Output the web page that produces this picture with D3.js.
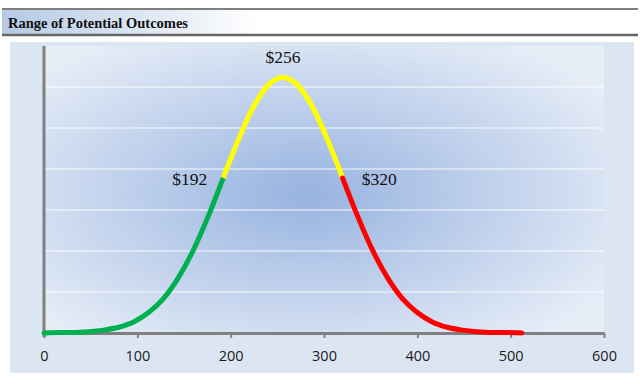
<!DOCTYPE html>
<html>
<head>
<meta charset="utf-8">
<script src="https://cdn.jsdelivr.net/npm/d3@7"></script>
<style>
  body { margin: 0; background: #fff; }
  svg { display: block; }
</style>
</head>
<body>
<div id="chart"></div>
<script>
// Data (density in thousandths)
const outcomes = [0, 16, 32, 48, 64, 80, 96, 112, 128, 144, 160, 176, 192, 208, 224, 240, 256,
  272, 288, 304, 320, 336, 352, 368, 384, 400, 416, 432, 448, 464, 480, 496, 512];
const density = [0.00, 0.01, 0.01, 0.03, 0.07, 0.14, 0.27, 0.50, 0.84, 1.35, 2.02, 2.85, 3.78, 4.70, 5.50, 6.04, 6.23,
  6.04, 5.50, 4.70, 3.78, 2.85, 2.02, 1.35, 0.84, 0.50, 0.27, 0.14, 0.07, 0.03, 0.01, 0.01, 0.00];
const bands = [[0, 192], [192, 320], [320, 512]];
const bandColors = ["#00b050", "#ffff00", "#ff0000"];
const markers = [192, 256, 320];
const xTicks = [0, 100, 200, 300, 400, 500, 600];
const yGrid = [1, 2, 3, 4, 5, 6, 7];

const fullWidth = 640, fullHeight = 384;
const plot = { left: 44, right: 604, top: 46, bottom: 333 };

const svg = d3.select("#chart")
  .append("svg")
  .attr("width", fullWidth)
  .attr("height", fullHeight);

const defs = svg.append("defs");

// Title bar gradient
const tg = defs.append("linearGradient").attr("id", "titleGrad");
tg.append("stop").attr("offset", "0%").attr("stop-color", "#b4c9e4");
tg.append("stop").attr("offset", "40%").attr("stop-color", "#ffffff");

// Plot area radial gradient
const rg = defs.append("radialGradient").attr("id", "plotGrad")
  .attr("cx", "47%").attr("cy", "52%").attr("r", "64%");
rg.append("stop").attr("offset", "0%").attr("stop-color", "#97b3e0");
rg.append("stop").attr("offset", "100%").attr("stop-color", "#e6edf7");

// Title bar
svg.append("rect")
  .attr("x", 2).attr("y", 10).attr("width", 636).attr("height", 25)
  .attr("fill", "url(#titleGrad)");
svg.append("line")
  .attr("x1", 2).attr("x2", 638).attr("y1", 9).attr("y2", 9)
  .attr("stroke", "#555").attr("stroke-width", 1.5);
svg.append("line")
  .attr("x1", 2).attr("x2", 638).attr("y1", 35).attr("y2", 35)
  .attr("stroke", "#666").attr("stroke-width", 2.5);
svg.append("text")
  .attr("x", 8).attr("y", 28)
  .style("font-family", "'Liberation Serif', 'Times New Roman', serif")
  .style("font-size", "14.5px")
  .style("font-weight", "bold")
  .attr("fill", "#111")
  .text("Range of Potential Outcomes");

// Chart background
svg.append("rect")
  .attr("x", 10).attr("y", 42).attr("width", 624).attr("height", 331)
  .attr("fill", "#dce6f2");

svg.append("rect")
  .attr("x", plot.left).attr("y", plot.top)
  .attr("width", plot.right - plot.left).attr("height", plot.bottom - plot.top)
  .attr("fill", "url(#plotGrad)");

// Scales
const xScale = d3.scaleLinear().domain([0, 600]).range([plot.left, plot.right]);
const yScale = d3.scaleLinear().domain([0, 7]).range([plot.bottom, plot.top]);

// Grid lines
svg.append("g")
  .selectAll("line")
  .data(yGrid.slice(0, -1))
  .join("line")
  .attr("x1", plot.left).attr("x2", plot.right)
  .attr("y1", d => yScale(d)).attr("y2", d => yScale(d))
  .attr("stroke", "#ffffff").attr("stroke-opacity", 0.6).attr("stroke-width", 1.5);

// X axis
const xAxis = svg.append("g")
  .attr("transform", `translate(0,${plot.bottom})`)
  .call(d3.axisBottom(xScale).tickValues(xTicks).tickSize(5).tickSizeOuter(0));
xAxis.select(".domain").attr("stroke", "#808080").attr("stroke-width", 3);
xAxis.selectAll(".tick line").attr("stroke", "#808080").attr("stroke-width", 2);
xAxis.selectAll(".tick text")
  .attr("y", 18)
  .style("font-family", "'Open Sans', 'DejaVu Sans', sans-serif")
  .style("font-size", "14.5px")
  .attr("fill", "#1a1a1a");

// Y axis line
svg.append("line")
  .attr("x1", plot.left).attr("x2", plot.left)
  .attr("y1", plot.top).attr("y2", plot.bottom + 4)
  .attr("stroke", "#808080").attr("stroke-width", 3);

// Curve
const points = outcomes.map((x, i) => ({ x, y: density[i] }));
const line = d3.line()
  .curve(d3.curveMonotoneX)
  .x(d => xScale(d.x))
  .y(d => yScale(d.y));

bands.forEach((b, i) => {
  svg.append("path")
    .datum(points.filter(d => d.x >= b[0] && d.x <= b[1]))
    .attr("fill", "none")
    .attr("stroke", bandColors[i])
    .attr("stroke-width", 5)
    .attr("stroke-linecap", i === 1 ? "butt" : "round")
    .attr("d", line);
});

// Marker labels
const labelOffsets = { 192: [-16, 7, "end"], 256: [0, -15, "middle"], 320: [19, 7, "start"] };
markers.forEach(m => {
  const d = points.find(p => p.x === m);
  const [dx, dy, anchor] = labelOffsets[m];
  svg.append("text")
    .attr("x", xScale(d.x) + dx)
    .attr("y", yScale(d.y) + dy)
    .attr("text-anchor", anchor)
    .style("font-family", "'Liberation Serif', 'Times New Roman', serif")
    .style("font-size", "17.5px")
    .attr("fill", "#111")
    .text("$" + m);
});
</script>
</body>
</html>
